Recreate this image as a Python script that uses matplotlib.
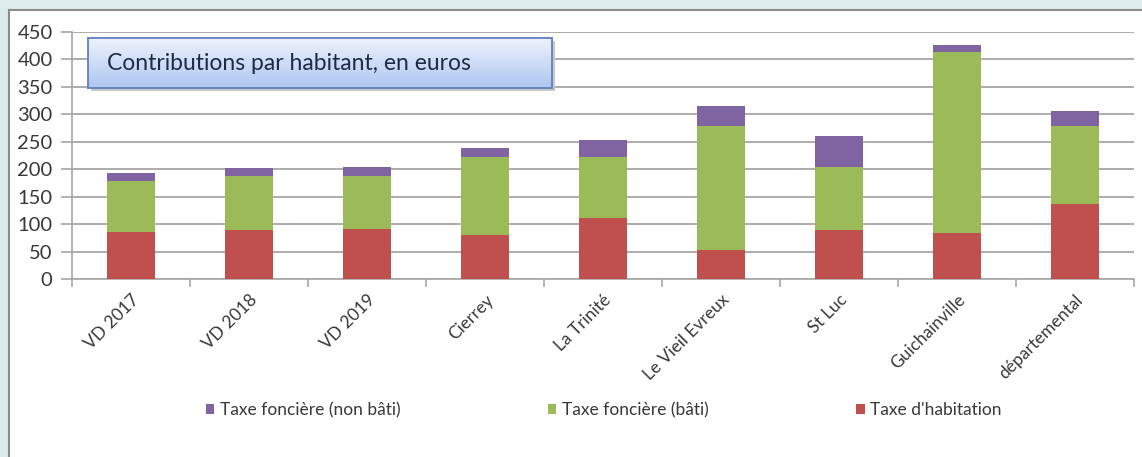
import numpy as np
import matplotlib.pyplot as plt
from matplotlib.patches import Rectangle
from matplotlib.colors import LinearSegmentedColormap

plt.rcParams['font.family'] = ['Lato', 'DejaVu Sans']

communes = ['VD 2017', 'VD 2018', 'VD 2019', 'Cierrey', 'La Trinité',
            'Le Vieil Evreux', 'St Luc', 'Guichainville', 'départemental']
habitation = [86, 90, 91, 81, 112, 53, 89, 83, 137]
fonciere_bati = [93, 98, 97, 141, 111, 225, 115, 330, 142]
fonciere_non_bati = [14, 15, 16, 16, 31, 38, 56, 14, 27]

c_red = '#c0504d'
c_green = '#9bbb59'
c_purple = '#8064a2'
grid_c = '#a6a6a6'

fig = plt.figure(figsize=(11.42, 4.57), dpi=100)
fig.patch.set_facecolor('#dcecec')

# white chart area with grey frame
frame = Rectangle((9 / 1142, -0.01), 1.0, (457 - 10) / 457 + 0.01,
                  transform=fig.transFigure, facecolor='white',
                  edgecolor='#8c8c8c', linewidth=1.5, zorder=-10)
fig.patches.append(frame)

ax = fig.add_axes([72 / 1142, (457 - 279) / 457, (1134 - 72) / 1142, 247 / 457])
ax.set_facecolor('none')

x = np.arange(len(communes))
bottom2 = np.array(habitation)
bottom3 = bottom2 + np.array(fonciere_bati)
w = 0.4
b1 = ax.bar(x, habitation, w, color=c_red, zorder=3, label="Taxe d'habitation")
b2 = ax.bar(x, fonciere_bati, w, bottom=bottom2, color=c_green, zorder=3,
            label='Taxe foncière (bâti)')
b3 = ax.bar(x, fonciere_non_bati, w, bottom=bottom3, color=c_purple, zorder=3,
            label='Taxe foncière (non bâti)')

ax.set_xlim(-0.5, len(communes) - 0.5)
ax.set_ylim(0, 450)
ax.set_yticks(np.arange(0, 451, 50))
ax.yaxis.grid(True, color=grid_c, linewidth=1.3)
ax.set_axisbelow(True)
for s in ['top', 'right']:
    ax.spines[s].set_visible(False)
ax.spines['left'].set_color(grid_c)
ax.spines['bottom'].set_color(grid_c)
ax.spines['left'].set_linewidth(1.2)
ax.spines['bottom'].set_linewidth(1.2)

ax.tick_params(axis='y', colors=grid_c, length=8, width=1.2, labelsize=14.5,
               labelcolor='#383838', pad=6)
ax.set_xticks(x)
ax.set_xticklabels(communes, rotation=45, ha='right', rotation_mode='anchor',
                   fontsize=12.5, color='#383838')
ax.tick_params(axis='x', which='major', length=0, pad=9)
ax.set_xticks(np.arange(-0.5, len(communes), 1), minor=True)
ax.tick_params(axis='x', which='minor', length=6, width=1.2, colors=grid_c)

# title box
tshadow = fig.add_axes([91 / 1142, (457 - 91) / 457, 464 / 1142, 50 / 457])
tshadow.set_facecolor('#c8c8c8')
tshadow.set_xticks([])
tshadow.set_yticks([])
for s in tshadow.spines.values():
    s.set_visible(False)
tax = fig.add_axes([88 / 1142, (457 - 88) / 457, 464 / 1142, 50 / 457])
grad = np.linspace(0, 1, 100).reshape(-1, 1)
cmap = LinearSegmentedColormap.from_list('tb', ['#eef3fc', '#aec6f1'])
tax.imshow(grad, aspect='auto', cmap=cmap, extent=[0, 1, 0, 1], origin='upper')
tax.set_xticks([])
tax.set_yticks([])
for s in tax.spines.values():
    s.set_color('#5f80bd')
    s.set_linewidth(1.3)
tax.text(0.04, 0.5, 'Contributions par habitant, en euros', fontsize=16.5,
         color='#1f2a44', va='center', ha='left', transform=tax.transAxes)

fig.legend(handles=[b3, b2, b1], loc='center left',
           bbox_to_anchor=(190 / 1142, (457 - 410) / 457), ncol=3,
           frameon=False, fontsize=12.5, handlelength=0.5, handleheight=0.5,
           handletextpad=0.3, columnspacing=8.5, labelcolor='#383838')

fig.savefig('out.png', dpi=100, facecolor=fig.get_facecolor())
